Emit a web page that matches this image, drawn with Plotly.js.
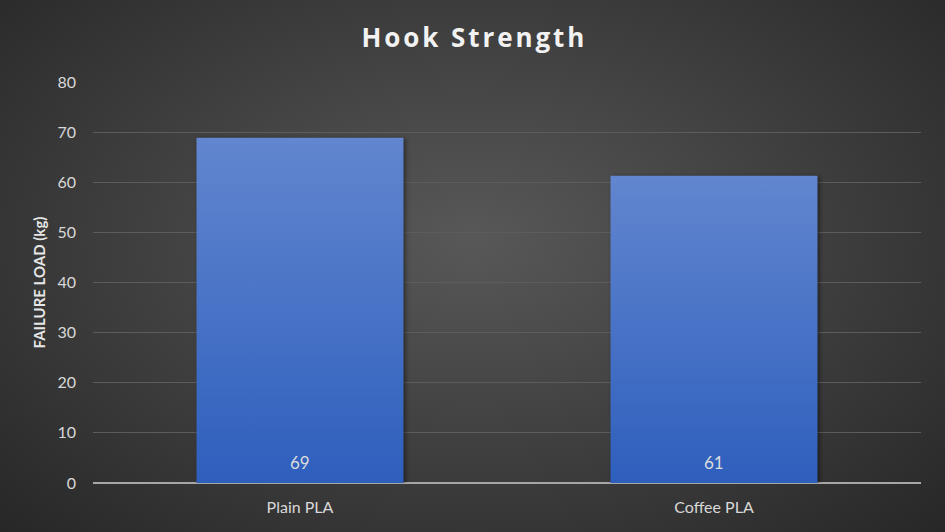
<!DOCTYPE html>
<html>
<head>
<meta charset="utf-8">
<script src="https://cdn.plot.ly/plotly-3.0.1.min.js"></script>
<style>
  html, body { margin: 0; padding: 0; }
  #chart {
    width: 945px; height: 532px;
    background: radial-gradient(ellipse at 50% 45%, #585858 0%, #424242 45%, #272727 100%);
  }
</style>
</head>
<body>
<div id="chart"></div>
<script>
// values
const categories = ['Plain PLA', 'Coffee PLA'];
const failureLoad = [68.9, 61.3];
const yTicks = [0, 10, 20, 30, 40, 50, 60, 70, 80];

const FONT = 'Lato, "Open Sans", sans-serif';

const trace = {
    x: categories, y: failureLoad, type: 'bar',
    marker: { color: '#4a72c6' },
    hoverinfo: 'none',
};

const labels = categories.map((c, i) => ({
    x: c, y: 0, xref: 'x', yref: 'y', yanchor: 'bottom', yshift: 8,
    text: failureLoad[i].toFixed(0), showarrow: false,
    font: { family: FONT, size: 17, color: '#dcdcdc' },
}));

const layout = {
    width: 945, height: 532,
    title: {
        text: '<b>Hook Strength</b>',
        font: { family: '"Open Sans", sans-serif', size: 26, color: '#f2f2f2' },
        x: 0.502, xanchor: 'center', y: 0.928, yanchor: 'middle',
    },
    xaxis: {
        tickfont: { family: FONT, size: 16, color: '#d9d9d9' },
        showgrid: false, showline: false, ticks: '', ticklabelstandoff: 13,
    },
    yaxis: {
        title: { text: '<b>FAILURE LOAD (kg)</b>', font: { family: FONT, size: 15, color: '#e6e6e6' }, standoff: 8 },
        range: [0, 80], tickvals: yTicks, ticktext: yTicks.map(String),
        tickfont: { family: FONT, size: 16, color: '#d9d9d9' },
        gridcolor: '#5c5c5c', gridwidth: 1,
        zeroline: true, zerolinecolor: '#a6a6a6', zerolinewidth: 2,
        showline: false, ticks: '', ticklabelstandoff: 16,
    },
    bargap: 0.5,
    annotations: labels,
    paper_bgcolor: 'rgba(0,0,0,0)', plot_bgcolor: 'rgba(0,0,0,0)',
    margin: { l: 93, r: 24, t: 82, b: 49 },
    showlegend: false,
};

Plotly.newPlot('chart', [trace], layout, { displayModeBar: false, staticPlot: true }).then(gd => {
    // spaced-out title like the original
    const t = gd.querySelector('.gtitle');
    if (t) { t.style.letterSpacing = '2.9px'; }

    // vertical gradient on the bars, like the Excel fill
    const svg = gd.querySelector('svg.main-svg');
    const ns = 'http://www.w3.org/2000/svg';
    let defs = svg.querySelector('defs');
    if (!defs) { defs = document.createElementNS(ns, 'defs'); svg.insertBefore(defs, svg.firstChild); }
    const grad = document.createElementNS(ns, 'linearGradient');
    grad.setAttribute('id', 'barGrad');
    grad.setAttribute('x1', '0'); grad.setAttribute('y1', '0');
    grad.setAttribute('x2', '0'); grad.setAttribute('y2', '1');
    [['0%', '#6286cf'], ['100%', '#2e5fbd']].forEach(([o, c]) => {
        const s = document.createElementNS(ns, 'stop');
        s.setAttribute('offset', o); s.setAttribute('stop-color', c);
        grad.appendChild(s);
    });
    defs.appendChild(grad);
    gd.querySelectorAll('.bars .point path').forEach(p => {
        p.style.fill = 'url(#barGrad)';
        p.style.filter = 'drop-shadow(2px 1px 2px rgba(0,0,0,0.45))';
    });
});
</script>
</body>
</html>
